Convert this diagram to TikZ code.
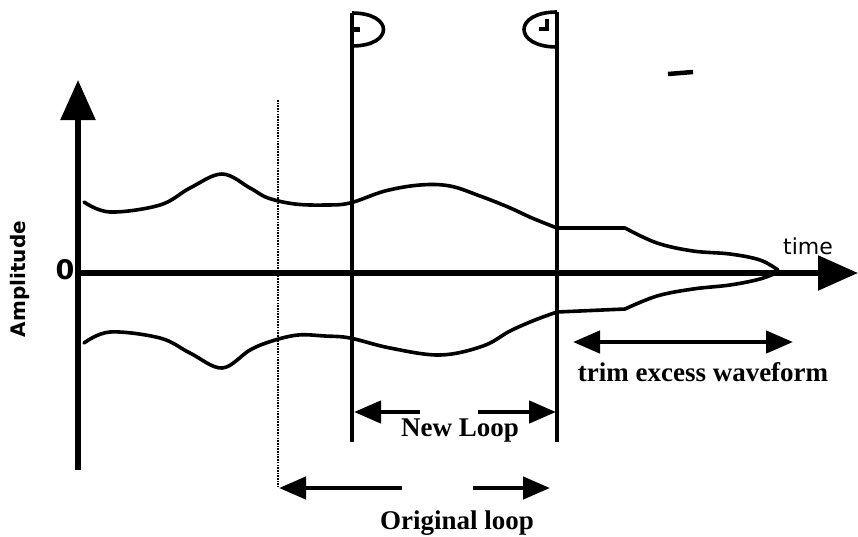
\documentclass[tikz,border=0pt]{standalone}
\usepackage{fontspec}
\setmainfont{Liberation Serif}
\newfontfamily\labelsans{DejaVu Sans}
\usetikzlibrary{arrows.meta, positioning}

\begin{document}
\begin{tikzpicture}[
  x=1pt, y=-1pt,
  axis/.style={line width=5.5pt, -{Triangle[length=40pt,width=34pt]}},
  wave/.style={line width=3.6pt, line join=round, line cap=round},
  marker/.style={line width=3.6pt},
  span/.style={line width=4.5pt, -{Triangle[length=27pt,width=22pt]}},
  seriflabel/.style={font=\fontsize{27}{30}\selectfont\bfseries, inner sep=0pt, anchor=base},
  sanslabel/.style={font=\labelsans\fontsize{20}{24}\selectfont\bfseries, inner sep=0pt}
]
  \useasboundingbox (0,0) rectangle (858,536);

  % axes
  \coordinate (origin) at (78,273);
  \coordinate (ybot) at (78,470);
  \coordinate (ytop) at (78,80);
  \coordinate (xend) at (858,273);
  \draw[axis] (ybot) -- (ytop);
  \draw[axis] (origin) -- (xend);
  \node[sanslabel, font=\labelsans\fontsize{27}{30}\selectfont\bfseries] (zero) at (65,270) {0};
  \node[sanslabel, rotate=90] (amp) at (20,279) {Amplitude};
  \node[sanslabel, font=\labelsans\fontsize{22}{26}\selectfont] (time) at (808,246) {time};

  % envelope
  \draw[wave] plot[smooth, tension=0.6] coordinates {(84,202) (110,212) (160,205) (190,188) (222,174)
    (250,188) (268,198) (295,204) (325,205) (350,203) (385,191) (420,185) (450,186) (480,196)
    (508,207) (532,218) (557,228)} -- (625,228)
    plot[smooth, tension=0.6] coordinates {(625,228) (657,243) (693,251) (730,254) (760,260) (778,270)};
  \draw[wave] plot[smooth, tension=0.6] coordinates {(84,343) (110,332) (160,338) (190,353) (222,368)
    (250,350) (272,341) (298,335) (325,336) (350,338) (390,348) (440,355) (483,346) (510,331)
    (535,320) (557,312)} -- (625,309)
    plot[smooth, tension=0.6] coordinates {(625,309) (657,296) (693,289) (730,285) (760,279) (778,272)};

  % loop markers
  \coordinate (oldtop) at (278,100);
  \coordinate (oldbot) at (278,487);
  \draw[line width=2.6pt, dash pattern=on 1.6pt off 1.1pt] (oldtop) -- (oldbot);
  \coordinate (ptop) at (352,13);
  \coordinate (pbot) at (352,442);
  \coordinate (qtop) at (557,12);
  \coordinate (qbot) at (557,442);
  \draw[marker] (ptop) -- (pbot);
  \draw[marker] (qtop) -- (qbot);
  \draw[marker] (ptop) .. controls (394,13) and (394,46) .. (352,46);
  \draw[line width=5pt] (352,29) -- (360,29);
  \draw[marker] (qtop) .. controls (513,12) and (513,47) .. (557,47);
  \draw[marker] (547,19) -- (547,29) -- (539,29);
  \draw[line width=4.5pt] (668,74) -- (693,72);

  % spans
  \coordinate (trimL) at (573,342);
  \coordinate (trimR) at (793,342);
  \draw[span, {Triangle[length=27pt,width=22pt]}-{Triangle[length=27pt,width=22pt]}] (trimL) -- (trimR);
  \node[seriflabel] (trim) at (703,381) {trim excess waveform};

  \coordinate (newL) at (354,412);
  \coordinate (newA) at (420,412);
  \coordinate (newB) at (478,412);
  \coordinate (newR) at (556,412);
  \draw[span] (newA) -- (newL);
  \draw[span] (newB) -- (newR);
  \node[seriflabel] (newloop) at (460,436) {New Loop};

  \coordinate (oldL) at (279,488);
  \coordinate (oldA) at (402,488);
  \coordinate (oldB) at (473,488);
  \coordinate (oldR) at (550,488);
  \draw[span] (oldA) -- (oldL);
  \draw[span] (oldB) -- (oldR);
  \node[seriflabel] (origloop) at (457,529) {Original loop};
\end{tikzpicture}
\end{document}
